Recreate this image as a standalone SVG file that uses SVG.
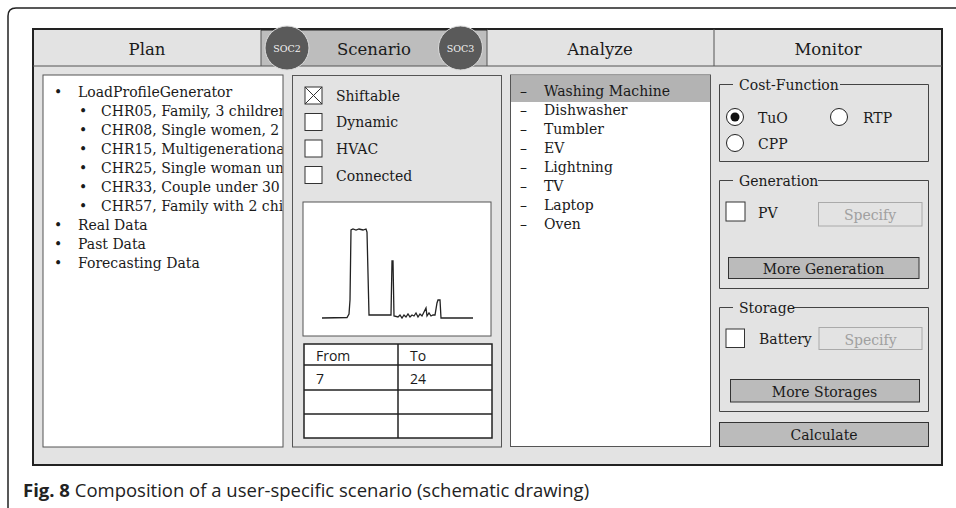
<svg xmlns="http://www.w3.org/2000/svg" width="956" height="508" viewBox="0 0 956 508">
<style>
.serif{font-family:"DejaVu Serif","Liberation Serif",serif;font-size:14px;fill:#1a1a1a}
.tab{font-family:"DejaVu Serif","Liberation Serif",serif;font-size:16.5px;fill:#1a1a1a;text-anchor:middle}
.soc{font-family:"DejaVu Serif","Liberation Serif",serif;font-size:9.5px;fill:#f2f2f2;text-anchor:middle}
.sans{font-family:"Open Sans","Noto Sans",sans-serif;font-size:14px;fill:#1a1a1a}
.panel{fill:#e3e3e3;stroke:#555;stroke-width:1}
.white{fill:#ffffff;stroke:#555;stroke-width:1}
.cb{fill:#ffffff;stroke:#333;stroke-width:1}
.btn{fill:#bbbbbb;stroke:#333;stroke-width:1}
.dis{fill:#e3e3e3;stroke:#aaa;stroke-width:1}
.distext{font-family:"DejaVu Serif","Liberation Serif",serif;font-size:14px;fill:#a0a0a0;text-anchor:middle}
.mid{text-anchor:middle}
.grp{fill:none;stroke:#444;stroke-width:1}
.circ{fill:#5a5a5a;stroke:#dcdcdc;stroke-width:1}
.radio{fill:#ffffff;stroke:#222;stroke-width:1}
.line{fill:none;stroke:#222;stroke-width:1.3}
</style>
<defs>
<clipPath id="planclip"><rect x="43" y="75" width="239.5" height="372"/></clipPath>
</defs>

<g id="figure-frame">
<path d="M8 508 L8 16 Q8 8 16 8 L956 8" fill="none" stroke="#222" stroke-width="1.5"/>
</g>

<g id="main-window">
<rect x="33" y="29" width="909" height="436" fill="#e3e3e3" stroke="#222" stroke-width="2"/>
</g>

<g id="tabs">
<rect x="261" y="29" width="226" height="37" fill="#bdbdbd"/>
<line x1="33" y1="66" x2="942" y2="66" stroke="#555" stroke-width="1"/>
<line x1="261" y1="29" x2="261" y2="66" stroke="#555" stroke-width="1"/>
<line x1="487" y1="29" x2="487" y2="66" stroke="#555" stroke-width="1"/>
<line x1="714" y1="29" x2="714" y2="66" stroke="#555" stroke-width="1"/>
<line x1="261" y1="29.5" x2="487" y2="29.5" stroke="#222" stroke-width="2"/>
<text class="tab" x="147" y="55">Plan</text>
<text class="tab" x="374" y="55">Scenario</text>
<text class="tab" x="600" y="55">Analyze</text>
<text class="tab" x="828" y="55">Monitor</text>
</g>

<g id="soc2">
<circle class="circ" cx="287" cy="48" r="22"/>
<text class="soc" x="287" y="51.5">SOC2</text>
</g>
<g id="soc3">
<circle class="circ" cx="460.5" cy="48" r="22"/>
<text class="soc" x="460.5" y="51.5">SOC3</text>
</g>

<g id="plan-panel">
<rect class="white" x="43" y="75" width="240" height="372"/>
<g clip-path="url(#planclip)" class="serif">
<text x="54" y="97">•</text><text x="78" y="97">LoadProfileGenerator</text>
<text x="79" y="116">•</text><text x="101" y="116">CHR05, Family, 3 children</text>
<text x="79" y="135">•</text><text x="101" y="135">CHR08, Single women, 2</text>
<text x="79" y="154">•</text><text x="101" y="154">CHR15, Multigenerational</text>
<text x="79" y="173">•</text><text x="101" y="173">CHR25, Single woman und</text>
<text x="79" y="192">•</text><text x="101" y="192">CHR33, Couple under 30 y</text>
<text x="79" y="211">•</text><text x="101" y="211">CHR57, Family with 2 chil</text>
<text x="54" y="230">•</text><text x="78" y="230">Real Data</text>
<text x="54" y="249">•</text><text x="78" y="249">Past Data</text>
<text x="54" y="268">•</text><text x="78" y="268">Forecasting Data</text>
</g>
</g>

<g id="scenario-panel">
<rect class="panel" x="292.5" y="75.5" width="209" height="371.5"/>
<rect class="cb" x="305" y="87" width="17" height="17"/>
<path d="M305 87 L322 104 M322 87 L305 104" stroke="#333" stroke-width="1"/>
<rect class="cb" x="305" y="113.5" width="17" height="17"/>
<rect class="cb" x="305" y="140" width="17" height="17"/>
<rect class="cb" x="305" y="166.5" width="17" height="17"/>
<text class="serif" x="336" y="101">Shiftable</text>
<text class="serif" x="336" y="127">Dynamic</text>
<text class="serif" x="336" y="154">HVAC</text>
<text class="serif" x="336" y="180.5">Connected</text>
</g>

<g id="load-chart">
<rect class="white" x="303" y="202" width="188" height="134" stroke="#666"/>
<polyline class="line" points="322,318 347,317.5 349,314 350,300 351,230 353,229 356,230 359,229 363,230 366,229 367,232 369,315 391,315 392,261 393,261 394,316 398,317 400,315 402,318 404,315 406,317 408,314 410,317 412,315 414,316 416,313 418,317 420,314 422,316 424,312 426,308 427,316 429,313 431,316 433,315 435,315 437,303 438,300 440,300 441,318 473,318"/>
</g>

<g id="time-table">
<rect x="304" y="344" width="188" height="94" fill="#ffffff" stroke="#222" stroke-width="1.5"/>
<line x1="398" y1="344" x2="398" y2="438" stroke="#222" stroke-width="1.5"/>
<line x1="304" y1="365" x2="492" y2="365" stroke="#222" stroke-width="1.5"/>
<line x1="304" y1="390" x2="492" y2="390" stroke="#222" stroke-width="1.5"/>
<line x1="304" y1="414" x2="492" y2="414" stroke="#222" stroke-width="1.5"/>
<text class="sans" x="316" y="361">From</text>
<text class="sans" x="410" y="361">To</text>
<text class="sans" x="316" y="384">7</text>
<text class="sans" x="410" y="384">24</text>
</g>

<g id="analyze-panel">
<rect class="white" x="510.5" y="75" width="200" height="371.5"/>
<rect x="511" y="75.5" width="199" height="26.5" fill="#b3b3b3"/>
<g class="serif">
<text x="520" y="96">–</text><text x="544" y="96">Washing Machine</text>
<text x="520" y="115">–</text><text x="544" y="115">Dishwasher</text>
<text x="520" y="134">–</text><text x="544" y="134">Tumbler</text>
<text x="520" y="153">–</text><text x="544" y="153">EV</text>
<text x="520" y="172">–</text><text x="544" y="172">Lightning</text>
<text x="520" y="191">–</text><text x="544" y="191">TV</text>
<text x="520" y="210">–</text><text x="544" y="210">Laptop</text>
<text x="520" y="229">–</text><text x="544" y="229">Oven</text>
</g>
</g>

<g id="cost-function">
<path class="grp" d="M733 84.5 L719.5 84.5 L719.5 161.5 L928.5 161.5 L928.5 84.5 L840 84.5"/>
<text class="serif" x="739" y="90">Cost-Function</text>
<circle class="radio" cx="735" cy="117" r="8.5"/>
<circle cx="735" cy="117" r="4.5" fill="#111"/>
<text class="serif" x="758" y="123">TuO</text>
<circle class="radio" cx="839" cy="117" r="8.5"/>
<text class="serif" x="863" y="123">RTP</text>
<circle class="radio" cx="735" cy="143" r="8.5"/>
<text class="serif" x="758" y="148.5">CPP</text>
</g>

<g id="generation">
<path class="grp" d="M733 180.5 L719.5 180.5 L719.5 288.5 L928.5 288.5 L928.5 180.5 L818 180.5"/>
<text class="serif" x="739" y="186">Generation</text>
<rect class="cb" x="726" y="202" width="19" height="19"/>
<text class="serif" x="758" y="218">PV</text>
<rect class="dis" x="818.5" y="202.5" width="103.5" height="23.5"/>
<text class="distext" x="870" y="220">Specify</text>
<rect class="btn" x="728.5" y="257.5" width="190.5" height="21"/>
<text class="serif mid" x="823.5" y="274">More Generation</text>
</g>

<g id="storage">
<path class="grp" d="M733 307.5 L719.5 307.5 L719.5 411.5 L928.5 411.5 L928.5 307.5 L793 307.5"/>
<text class="serif" x="739" y="313">Storage</text>
<rect class="cb" x="726" y="329" width="18.5" height="18.5"/>
<text class="serif" x="759" y="344">Battery</text>
<rect class="dis" x="819" y="327.5" width="103" height="22"/>
<text class="distext" x="870.5" y="345">Specify</text>
<rect class="btn" x="730.5" y="379.5" width="189" height="22.5"/>
<text class="serif mid" x="824.5" y="397">More Storages</text>
</g>

<g id="calculate">
<rect class="btn" x="719.5" y="422.5" width="209" height="24"/>
<text class="serif mid" x="824" y="440">Calculate</text>
</g>

<g id="caption">
<text x="23" y="497" font-family="'Open Sans','Noto Sans',sans-serif" font-size="18.5" fill="#222"><tspan font-weight="bold">Fig. 8</tspan> Composition of a user-specific scenario (schematic drawing)</text>
</g>
</svg>
